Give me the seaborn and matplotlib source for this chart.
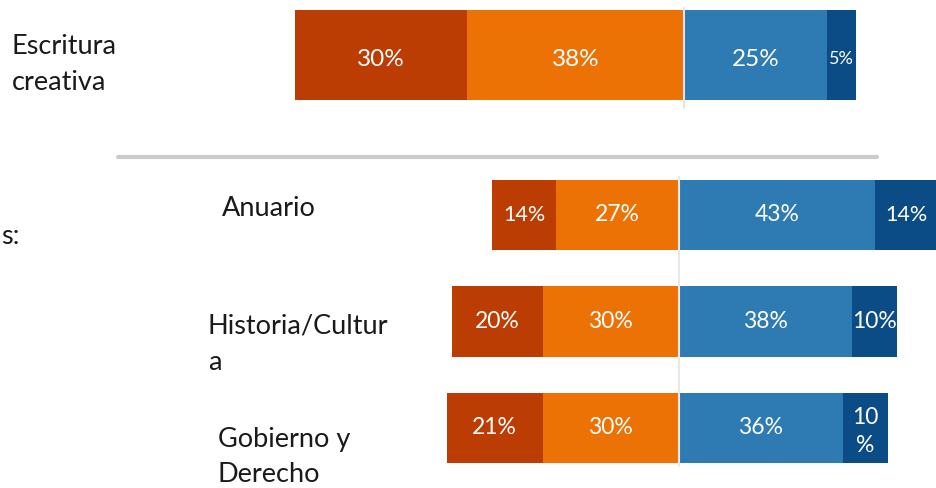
import matplotlib
matplotlib.use("Agg")
import matplotlib.pyplot as plt
from matplotlib.lines import Line2D
import seaborn as sns
import pandas as pd

# ---------------- data ----------------
top_cats = ["Escritura creativa"]
top_neg_strong = [30]
top_neg = [38]
top_pos = [25]
top_pos_strong = [5]

bot_cats = ["Anuario", "Historia/Cultura", "Gobierno y Derecho"]
bot_neg_strong = [14, 20, 21]
bot_neg = [27, 30, 30]
bot_pos = [43, 38, 36]
bot_pos_strong = [14, 10, 10]

C_NEG_STRONG = "#BC3D03"
C_NEG = "#EC7206"
C_POS = "#2E7AB2"
C_POS_STRONG = "#0B4B86"

sns.set_theme(style="white")
plt.rcParams["font.family"] = ["Lato", "DejaVu Sans"]

W, H = 936, 488
fig = plt.figure(figsize=(W / 100, H / 100), dpi=100)
fig.patch.set_facecolor("white")


def px_axes(x0, y0, x1, y1):
    return fig.add_axes([x0 / W, 1 - y1 / H, (x1 - x0) / W, (y1 - y0) / H])


def draw_diverging(ax, cats, ns, n, p, ps, width, fs_list, dy):
    df = pd.DataFrame({"cat": cats, "ns": ns, "n": n, "p": p, "ps": ps})
    df["left_ext"] = -(df["ns"] + df["n"])
    df["left_in"] = -df["n"]
    df["right_ext"] = df["p"] + df["ps"]
    df["right_in"] = df["p"]
    for col, colr in [("left_ext", C_NEG_STRONG), ("left_in", C_NEG),
                      ("right_ext", C_POS_STRONG), ("right_in", C_POS)]:
        sns.barplot(data=df, x=col, y="cat", orient="h", color=colr,
                    width=width, errorbar=None, saturation=1,
                    linewidth=0, ax=ax)
    for i, r in df.iterrows():
        segs = [(-(r.n + r.ns / 2), r.ns), (-(r.n / 2), r.n),
                (r.p / 2, r.p), (r.p + r.ps / 2, r.ps)]
        for j, (xc, v) in enumerate(segs):
            fs, lab = fs_list[i][j]
            lab = lab if lab else f"{v}%"
            ax.text(xc, i + dy, lab, color="white", ha="center",
                    va="center_baseline", fontsize=fs, linespacing=1.4)


# ---------------- top chart ----------------
ax1 = px_axes(0, 0, 936, 140)
draw_diverging(ax1, top_cats, top_neg_strong, top_neg, top_pos,
               top_pos_strong, 0.8,
               [[(17.5, None), (17.5, None), (17.5, None), (13, None)]], 0.02)
s1 = 5.72
ax1.set_xlim(-684 / s1, (936 - 684) / s1)
u1 = 112.5
ax1.set_ylim(85 / u1, -55 / u1)
ax1.plot([0, 0], [-47 / u1, 53 / u1], color="#E4E4E4", lw=1.5, zorder=5)
ax1.set_axis_off()

# ---------------- bottom chart ----------------
ax2 = px_axes(0, 170, 936, 488)
draw_diverging(ax2, bot_cats, bot_neg_strong, bot_neg, bot_pos,
               bot_pos_strong, 0.66,
               [[(15.5, None), (16.5, None), (16.5, None), (15.5, None)],
                [(16.5, None), (16.5, None), (16.5, None), (16.5, None)],
                [(16.5, None), (16.5, None), (16.5, None), (16.5, "10\n%")]],
               -0.02)
s2 = 4.55
ax2.set_xlim(-679 / s2, (936 - 679) / s2)
u2 = 106.5
ax2.set_ylim((488 - 215) / u2, -(215 - 170) / u2)
ax2.plot([0, 0], [-0.36, 2.36], color="#E8E8E8", lw=1.5, zorder=5)
ax2.set_axis_off()

# ---------------- category labels & decoration ----------------
lab_kw = dict(color="#1A1A1A", fontsize=19.5, ha="left", va="center",
              linespacing=1.55)
fig.text(12 / W, 1 - 64 / H, "Escritura\ncreativa", **lab_kw)
fig.text(222 / W, 1 - 208 / H, "Anuario", **lab_kw)
fig.text(208 / W, 1 - 344 / H, "Historia/Cultur\na", **lab_kw)
fig.text(218 / W, 1 - 457 / H, "Gobierno y\nDerecho", **lab_kw)
fig.text(1 / W, 1 - 237 / H, "s:", **lab_kw)

fig.add_artist(Line2D([118 / W, 877 / W], [1 - 157 / H, 1 - 157 / H],
                      color="#CCCCCC", lw=3, transform=fig.transFigure))

fig.savefig("out.png", dpi=100, facecolor="white")
